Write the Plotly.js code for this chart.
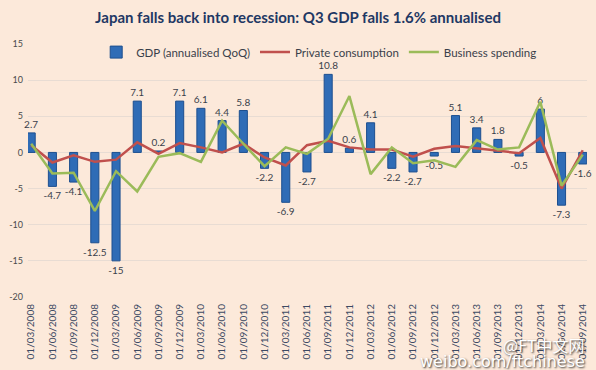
<!DOCTYPE html>
<html>
<head>
<meta charset="utf-8">
<script src="https://cdn.plot.ly/plotly-3.0.1.min.js"></script>
<style>
html,body{margin:0;padding:0;background:#fce9da;}
#chart{width:596px;height:370px;}
</style>
</head>
<body>
<div id="chart"></div>
<script>
var quarters = ["01/03/2008","01/06/2008","01/09/2008","01/12/2008","01/03/2009","01/06/2009","01/09/2009","01/12/2009","01/03/2010","01/06/2010","01/09/2010","01/12/2010","01/03/2011","01/06/2011","01/09/2011","01/12/2011","01/03/2012","01/06/2012","01/09/2012","01/12/2012","01/03/2013","01/06/2013","01/09/2013","01/12/2013","01/03/2014","01/06/2014","01/09/2014"];
var gdp = [2.7,-4.7,-4.1,-12.5,-15,7.1,0.2,7.1,6.1,4.4,5.8,-2.2,-6.9,-2.7,10.8,0.6,4.1,-2.2,-2.7,-0.5,5.1,3.4,1.8,-0.5,6,-7.3,-1.6];
var privateConsumption = [1.0,-1.4,-0.4,-1.3,-1.0,1.4,-0.2,1.3,0.7,0.0,1.2,-0.7,-1.8,1.0,1.6,0.7,0.4,0.4,-0.6,0.5,0.9,0.6,0.2,-0.1,2.0,-5.0,0.3];
var businessSpending = [1.2,-2.9,-2.8,-8.1,-2.6,-5.4,-0.6,-0.1,-1.3,4.4,1.2,-1.9,0.7,-0.2,1.9,7.8,-3.0,0.7,-1.5,-1.1,-2.0,1.7,0.4,0.7,7.0,-4.6,-0.3];
var yTicks = [-20,-15,-10,-5,0,5,10,15];

var traces = [
  {type:'bar', name:'GDP (annualised QoQ)', x:quarters, y:gdp,
   text:gdp.map(String), textposition:'outside', cliponaxis:false, constraintext:'none',
   textfont:{family:'Lato, sans-serif', size:10, color:'#3a3f4a'},
   width:0.38,
   marker:{color:'#2f6cb6', line:{color:'#1d4f8f', width:1}}},
  {type:'scatter', mode:'lines', name:'Private consumption', x:quarters, y:privateConsumption,
   line:{color:'#c0504d', width:2.5}},
  {type:'scatter', mode:'lines', name:'Business spending', x:quarters, y:businessSpending,
   line:{color:'#9bbb59', width:2.5}}
];

var layout = {
  width:596, height:370,
  paper_bgcolor:'#fce9da', plot_bgcolor:'#fce9da',
  margin:{l:28, r:9, t:44, b:73},
  title:{text:'<b>Japan falls back into recession: Q3 GDP falls 1.6% annualised</b>',
         font:{family:'Lato, sans-serif', size:15, color:'#1f3864'}, x:0.5, xanchor:'center', y:0.952, yanchor:'middle'},
  showlegend:true,
  legend:{orientation:'h', x:0.122, xanchor:'left', y:0.968, yanchor:'middle',
          bgcolor:'rgba(0,0,0,0)', font:{family:'Lato, sans-serif', size:11.5, color:'#3a3f4a'},
          traceorder:'normal', itemwidth:30},
  xaxis:{type:'category', range:[-0.15,26.2], tickangle:-90, showgrid:false, zeroline:false,
         ticks:'', showline:false, ticklabelstandoff:4,
         tickfont:{family:'Lato, sans-serif', size:10, color:'#3d4a63'}},
  yaxis:{range:[-20,15], tickvals:yTicks, ticktext:yTicks.map(String), showgrid:true, gridcolor:'#e8dcd3', gridwidth:1,
         zeroline:false, showline:false, ticks:'', ticklabelstandoff:4,
         tickfont:{family:'Lato, sans-serif', size:9, color:'#4a4a4a'}},
  annotations:[
    {xref:'paper', yref:'paper', x:1.0, y:-0.19, xanchor:'right', yanchor:'middle', showarrow:false,
     text:'@FT中文网', font:{family:'Noto Sans CJK SC, sans-serif', size:16, color:'#ffffff', shadow:'1px 1px 2px #333'}},
    {xref:'paper', yref:'paper', x:1.0, y:-0.255, xanchor:'right', yanchor:'middle', showarrow:false,
     text:'weibo.com/ftchinese', font:{family:'DejaVu Sans, sans-serif', size:16, color:'#ffffff', shadow:'1px 1px 2px #333'}}
  ]
};

Plotly.newPlot('chart', traces, layout, {displayModeBar:false, staticPlot:true});
</script>
</body>
</html>
